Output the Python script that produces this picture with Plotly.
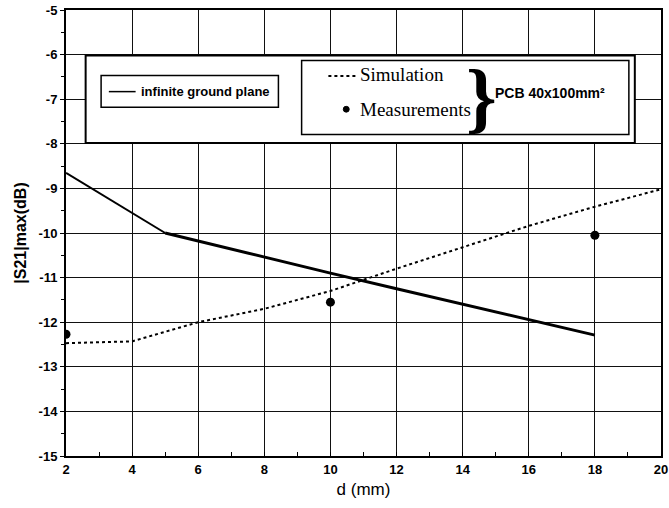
import plotly.graph_objects as go

# infinite ground plane (solid line)
d_inf = [2, 5, 8, 10, 12, 14, 16, 18]
s21_inf = [-8.65, -10.0, -10.55, -10.9, -11.25, -11.6, -11.95, -12.29]

# PCB 40x100mm2 simulation (dotted)
d_sim = [2, 4, 6, 8, 10, 11, 12, 14, 16, 18, 20]
s21_sim = [-12.47, -12.43, -12.0, -11.7, -11.3, -11.05, -10.8, -10.32, -9.84, -9.41, -9.02]

# PCB 40x100mm2 measurements (dots)
d_meas = [2, 10, 18]
s21_meas = [-12.27, -11.55, -10.05]

x_ticks = [2, 4, 6, 8, 10, 12, 14, 16, 18, 20]
y_ticks = [-5, -6, -7, -8, -9, -10, -11, -12, -13, -14, -15]

fig = go.Figure()
# first segment thinner, rest thicker, like the original
fig.add_trace(go.Scatter(x=d_inf[:2], y=s21_inf[:2], mode="lines",
                         line=dict(color="black", width=2)))
fig.add_trace(go.Scatter(x=d_inf[1:], y=s21_inf[1:], mode="lines",
                         line=dict(color="black", width=3)))
fig.add_trace(go.Scatter(x=d_sim, y=s21_sim, mode="lines",
                         line=dict(color="black", width=2, dash="dot")))
fig.add_trace(go.Scatter(x=d_meas, y=s21_meas, mode="markers",
                         marker=dict(color="black", size=9)))

sans = "Liberation Sans, Arial"
serif = "Liberation Serif, Times New Roman"
tickfont = dict(family=sans, size=13, color="black")

fig.update_layout(
    width=669, height=508,
    margin=dict(l=66, r=8, t=10, b=52),
    paper_bgcolor="white", plot_bgcolor="white",
    showlegend=False,
    xaxis=dict(range=[2, 20], tickvals=x_ticks, ticktext=["<b>%d</b>" % v for v in x_ticks],
               showgrid=True, gridcolor="#111", gridwidth=1,
               showline=True, linecolor="black", linewidth=2, mirror=True,
               ticks="inside", ticklen=4, tickcolor="black",
               minor=dict(dtick=1, ticks="inside", ticklen=4, tickcolor="black", showgrid=False),
               tickfont=tickfont, automargin=False, ticklabeloverflow="allow",
               title=dict(text="d (mm)", font=dict(family=sans, size=17, color="black"), standoff=8),
               zeroline=False),
    yaxis=dict(range=[-15, -5], tickvals=y_ticks, ticktext=["<b>%d</b>" % v for v in y_ticks],
               showgrid=True, gridcolor="#111", gridwidth=1,
               showline=True, linecolor="black", linewidth=2, mirror=True,
               ticks="outside", ticklen=4, tickcolor="black",
               minor=dict(dtick=0.5, ticks="outside", ticklen=3, tickcolor="black", showgrid=False),
               tickfont=tickfont, automargin=False, ticklabeloverflow="allow",
               title=dict(text="<b>|S21|max(dB)</b>", font=dict(family=sans, size=16, color="black"),
                          standoff=8),
               zeroline=False),
)

# legend frame drawn as shapes and text
fig.add_shape(type="rect", xref="paper", yref="paper", x0=0.033, x1=0.956, y0=0.702, y1=0.898,
              line=dict(color="black", width=2), fillcolor="white", layer="above")
fig.add_shape(type="rect", xref="paper", yref="paper", x0=0.059, x1=0.357, y0=0.782, y1=0.853,
              line=dict(color="black", width=1.5), layer="above")
fig.add_shape(type="rect", xref="paper", yref="paper", x0=0.396, x1=0.946, y0=0.721, y1=0.887,
              line=dict(color="black", width=1.5), layer="above")
fig.add_shape(type="line", xref="paper", yref="paper", x0=0.072, x1=0.117, y0=0.817, y1=0.817,
              line=dict(color="black", width=1.5), layer="above")
fig.add_shape(type="line", xref="paper", yref="paper", x0=0.441, x1=0.491, y0=0.852, y1=0.852,
              line=dict(color="black", width=2, dash="dot"), layer="above")
fig.add_shape(type="circle", xref="paper", yref="paper", x0=0.466, x1=0.476, y0=0.771, y1=0.784,
              line=dict(color="black", width=1), fillcolor="black", layer="above")

fig.add_annotation(xref="paper", yref="paper", x=0.122, y=0.817, xanchor="left", yanchor="middle",
                   text="<b>infinite ground plane</b>", showarrow=False,
                   font=dict(family=sans, size=13, color="black"))
fig.add_annotation(xref="paper", yref="paper", x=0.49, y=0.855, xanchor="left", yanchor="middle",
                   text="Simulation", showarrow=False,
                   font=dict(family=serif, size=19, color="black"))
fig.add_annotation(xref="paper", yref="paper", x=0.49, y=0.778, xanchor="left", yanchor="middle",
                   text="Measurements", showarrow=False,
                   font=dict(family=serif, size=19, color="black"))
fig.add_annotation(xref="paper", yref="paper", x=0.698, y=0.807, xanchor="center", yanchor="middle",
                   text="<b>}</b>", showarrow=False,
                   font=dict(family=serif, size=78, color="black"))
fig.add_annotation(xref="paper", yref="paper", x=0.718, y=0.813, xanchor="left", yanchor="middle",
                   text="<b>PCB 40x100mm²</b>", showarrow=False,
                   font=dict(family=sans, size=14, color="black"))

# drop the default 8px body margin so the figure sits at the window's top-left corner
fig.write_html("out.html", config={"displayModeBar": False},
               post_script="document.body.style.margin='0';")
